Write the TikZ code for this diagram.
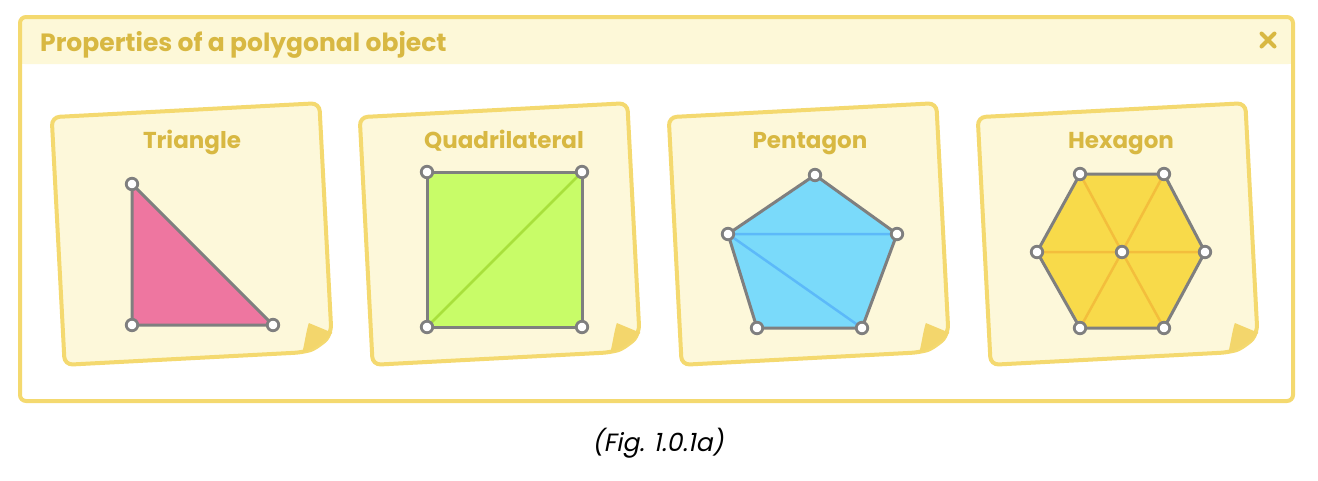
\documentclass[tikz,border=0pt]{standalone}
\usepackage{fontspec}
\setmainfont{Poppins}
\newfontfamily\capfont{Poppins}[FakeSlant=0.2]
\definecolor{frameY}{HTML}{F4D96F}
\definecolor{headY}{HTML}{FDF8D8}
\definecolor{goldT}{HTML}{D8B842}
\definecolor{paperY}{HTML}{FDF8DA}
\definecolor{curlY}{HTML}{F3D66C}
\definecolor{edgeG}{HTML}{7F7F7F}
\definecolor{pinkF}{HTML}{EE76A0}
\definecolor{limeF}{HTML}{C8FC68}
\definecolor{limeL}{HTML}{A8E03C}
\definecolor{blueF}{HTML}{7ADAFA}
\definecolor{blueL}{HTML}{5CB9F9}
\definecolor{hexF}{HTML}{F8DA4A}
\definecolor{hexL}{HTML}{F3BE3C}
\tikzset{
  vtx/.style={circle,fill=white,draw=edgeG,line width=2.8pt,inner sep=0pt,minimum size=11.5pt},
  polyedge/.style={draw=edgeG,line width=3pt,line join=round},
  cardtitle/.style={text=goldT,font=\fontsize{23}{27}\selectfont\bfseries,inner sep=0pt,anchor=base},
  paper/.style={fill=paperY,draw=frameY,line width=4pt,rounded corners=8pt},
}
\newcommand\papercard[2]{%
  \begin{scope}[shift={(#1,#2)},rotate=3]
    \filldraw[paper] (-134,124) -- (-134,-124) -- (134,-124) -- (134,106)
      .. controls (127,114) and (117,121) .. (104,124) -- cycle;
    \fill[curlY] (112,95) -- (135,106) .. controls (127,114) and (117,121) .. (104,124)
      .. controls (107,114) and (109,103) .. (112,95) -- cycle;
  \end{scope}}
\begin{document}
\begin{tikzpicture}[x=1pt,y=-1pt]
\useasboundingbox (0,0) rectangle (1318,480);
% outer frame
\fill[white,rounded corners=6pt] (20,17) rectangle (1293,401);
\fill[headY,rounded corners=4pt] (21,18) rectangle (1292,64);
\fill[headY] (21,40) rectangle (1292,64);
\draw[frameY,line width=4pt,rounded corners=6pt] (20,17) rectangle (1293,401);
\node[anchor=base west,text=goldT,font=\fontsize{25}{29}\selectfont\bfseries,inner sep=0pt] (title) at (40,51) {Properties of a polygonal object};
\coordinate (xc) at (1268,40);
\draw[goldT,line width=4pt,line cap=round] ([shift={(-6.5,-6.5)}]xc) -- ([shift={(6.5,6.5)}]xc);
\draw[goldT,line width=4pt,line cap=round] ([shift={(-6.5,6.5)}]xc) -- ([shift={(6.5,-6.5)}]xc);
% cards
\papercard{192}{234}
\papercard{500}{234}
\papercard{809}{234}
\papercard{1118}{234}
\node[cardtitle] (t1) at (192,148) {Triangle};
\node[cardtitle] (t2) at (504,148) {Quadrilateral};
\node[cardtitle] (t3) at (810,148) {Pentagon};
\node[cardtitle] (t4) at (1121,148) {Hexagon};
% triangle
\coordinate (a1) at (132,184);
\coordinate (a2) at (132,325);
\coordinate (a3) at (273,325);
\filldraw[fill=pinkF,polyedge] (a1) -- (a2) -- (a3) -- cycle;
% quadrilateral
\coordinate (b1) at (427,172);
\coordinate (b2) at (582,172);
\coordinate (b3) at (582,327);
\coordinate (b4) at (427,327);
\fill[limeF] (b1) -- (b2) -- (b3) -- (b4) -- cycle;
\draw[limeL,line width=2.5pt] (b4) -- (b2);
\draw[polyedge] (b1) -- (b2) -- (b3) -- (b4) -- cycle;
% pentagon
\coordinate (p1) at (815,175);
\coordinate (p2) at (897,234);
\coordinate (p3) at (862,328);
\coordinate (p4) at (757,328);
\coordinate (p5) at (728,234);
\fill[blueF] (p1) -- (p2) -- (p3) -- (p4) -- (p5) -- cycle;
\draw[blueL,line width=2.5pt] (p5) -- (p2) (p5) -- (p3);
\draw[polyedge] (p1) -- (p2) -- (p3) -- (p4) -- (p5) -- cycle;
% hexagon
\coordinate (h1) at (1080,174);
\coordinate (h2) at (1164,174);
\coordinate (h3) at (1205,252);
\coordinate (h4) at (1164,328);
\coordinate (h5) at (1080,328);
\coordinate (h6) at (1037,252);
\coordinate (hc) at (1122,252);
\fill[hexF] (h1) -- (h2) -- (h3) -- (h4) -- (h5) -- (h6) -- cycle;
\draw[hexL,line width=2.5pt] (hc) -- (h1) (hc) -- (h2) (hc) -- (h3) (hc) -- (h4) (hc) -- (h5) (hc) -- (h6);
\draw[polyedge] (h1) -- (h2) -- (h3) -- (h4) -- (h5) -- (h6) -- cycle;
% vertices
\foreach \v in {a1,a2,a3,b1,b2,b3,b4,p1,p2,p3,p4,p5,h1,h2,h3,h4,h5,h6,hc}
  \node[vtx] (v\v) at (\v) {};
% caption
\node[font=\capfont\fontsize{25}{29}\selectfont,inner sep=0pt] (cap) at (658,443) {(Fig. 1.0.1a)};
\end{tikzpicture}
\end{document}
